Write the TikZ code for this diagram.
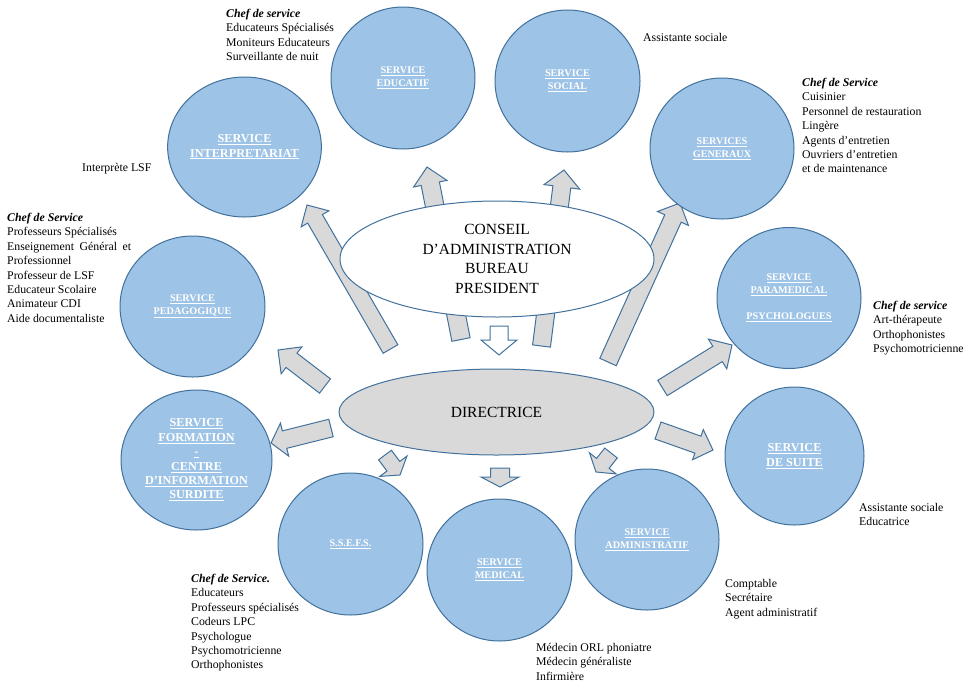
\documentclass[tikz,border=0pt]{standalone}
\usepackage{fontspec}
\setmainfont{Liberation Serif}
\usetikzlibrary{calc,shapes.geometric}

\definecolor{circfill}{HTML}{9DC3E6}
\definecolor{circline}{HTML}{41719C}
\definecolor{arrowgray}{HTML}{D9D9D9}

\newcommand{\svcline}[1]{\underline{#1}}

% block arrow: [options]{tail}{tip}{half shaft}{half head}{head length}
\newcommand{\blockarrow}[6][]{%
	\draw [blockarrow, #1] ($(#2)!#4!90:(#3)$) -- ($(#3)!#6!(#2)!#4!90:(#3)$) -- ($(#3)!#6!(#2)!#5!90:(#3)$) -- (#3) -- ($(#3)!#6!(#2)!#5!-90:(#3)$) -- ($(#3)!#6!(#2)!#4!-90:(#3)$) -- ($(#2)!#4!-90:(#3)$) -- cycle;%
}

\tikzset{
	service/.style = {ellipse, draw = circline, fill = circfill, line width = 1pt, inner sep = 0pt, text = white, align = center, font = \fontsize{10.2}{13}\selectfont\bfseries},
	service big/.style = {service, font = \fontsize{12.2}{14.4}\selectfont\bfseries},
	staff/.style = {anchor = north west, inner sep = 0pt, align = left, font = \fontsize{11.8}{14.4}\selectfont},
	blockarrow/.style = {draw = circline, fill = arrowgray, line width = 1pt, line join = miter},
}

\begin{document}
\begin{tikzpicture}[x = 1pt, y = -1pt]
						\useasboundingbox (0, 0) rectangle (964, 681);

						\coordinate (interp1) at (390.5, 349);
						\coordinate (interp2) at (307, 205);
						\coordinate (educ1) at (461, 339.5);
						\coordinate (educ2) at (427, 167);
						\coordinate (social1) at (541.5, 346);
						\coordinate (social2) at (564, 170);
						\coordinate (gen1) at (608, 362);
						\coordinate (gen2) at (680, 203);

						\coordinate (peda1) at (325, 386);
						\coordinate (peda2) at (278, 350);
						\coordinate (form1) at (331, 428);
						\coordinate (form2) at (271, 443);
						\coordinate (ssefs1) at (385, 455);
						\coordinate (ssefs2) at (400, 475);
						\coordinate (med1) at (500, 468);
						\coordinate (med2) at (500, 487);
						\coordinate (admin1) at (611, 453);
						\coordinate (admin2) at (596, 472);
						\coordinate (para1) at (662.5, 388);
						\coordinate (para2) at (732, 345);
						\coordinate (suite1) at (658, 430.5);
						\coordinate (suite2) at (713, 450);

						\coordinate (ca1) at (499, 326);
						\coordinate (ca2) at (499, 355);

						\blockarrow{interp1}{interp2}{8.5pt}{16pt}{16pt}
						\blockarrow{educ1}{educ2}{9.3pt}{17pt}{17pt}
						\blockarrow{social1}{social2}{9pt}{18pt}{17pt}
						\blockarrow{gen1}{gen2}{9pt}{17pt}{17pt}
						\blockarrow{peda1}{peda2}{9pt}{17pt}{17pt}
						\blockarrow{form1}{form2}{9pt}{17pt}{14pt}
						\blockarrow{ssefs1}{ssefs2}{8pt}{17pt}{11pt}
						\blockarrow{med1}{med2}{9.5pt}{19pt}{10pt}
						\blockarrow{admin1}{admin2}{8pt}{17pt}{11pt}
						\blockarrow{para1}{para2}{9pt}{17.5pt}{17pt}
						\blockarrow{suite1}{suite2}{9pt}{16pt}{16pt}
						\blockarrow[fill = white]{ca1}{ca2}{9pt}{18pt}{15pt}

						\node [ellipse, draw = circline, fill = white, line width = 1pt, inner sep = 0pt, minimum width = 314pt, minimum height = 116pt, align = center, font = \fontsize{15.5}{19.5}\selectfont] (conseil) at (497, 259) {CONSEIL\\D’ADMINISTRATION\\BUREAU\\PRESIDENT};
						\node [ellipse, draw = circline, fill = arrowgray, line width = 1pt, inner sep = 0pt, minimum width = 315pt, minimum height = 86pt, font = \fontsize{15.5}{19}\selectfont] (dir) at (496.5, 412) {DIRECTRICE};

						\node [service big, minimum width = 149pt, minimum height = 140pt] (interp) at (244.5, 147) {\svcline{SERVICE}\\\svcline{INTERPRETARIAT}};
						\node [service, minimum width = 144pt, minimum height = 142pt] (educ) at (403, 78) {\svcline{SERVICE}\\\svcline{EDUCATIF}};
						\node [service, minimum width = 145pt, minimum height = 142pt] (social) at (567.5, 81) {\svcline{SERVICE}\\\svcline{SOCIAL}};
						\node [service, minimum width = 144pt, minimum height = 141pt] (gen) at (722, 148.5) {\svcline{SERVICES}\\\svcline{GENERAUX}};
						\node [service, minimum width = 145pt, minimum height = 141pt] (peda) at (192.5, 306.5) {\svcline{SERVICE}\\\svcline{PEDAGOGIQUE}};
						\node [service big, minimum width = 151pt, minimum height = 140pt] (form) at (196.5, 460) {\svcline{SERVICE}\\\svcline{FORMATION}\\\svcline{-}\\\svcline{CENTRE}\\\svcline{D’INFORMATION}\\\svcline{SURDITE}};
						\node [service, minimum width = 144pt, minimum height = 141pt] (para) at (789, 298) {\svcline{SERVICE}\\\svcline{PARAMEDICAL}\\[13pt]\svcline{PSYCHOLOGUES}};
						\node [service big, minimum width = 139pt, minimum height = 138pt] (suite) at (794.5, 456) {\svcline{SERVICE}\\\svcline{DE SUITE}};
						\node [service, minimum width = 145pt, minimum height = 142pt] (ssefs) at (350.5, 544) {\svcline{S.S.E.F.S.}};
						\node [service, minimum width = 145pt, minimum height = 142pt] (med) at (499.5, 570) {\svcline{SERVICE}\\\svcline{MEDICAL}};
						\node [service, minimum width = 144pt, minimum height = 141pt] (admin) at (647, 539.5) {\svcline{SERVICE}\\\svcline{ADMINISTRATIF}};

						\node [staff] (educstaff) at (226, 9) {\textbf{\textit{Chef de service}}\\Educateurs Spécialisés\\Moniteurs Educateurs\\Surveillante de nuit};
						\node [staff] (socialstaff) at (643, 33) {Assistante sociale};
						\node [staff] (genstaff) at (802, 78) {\textbf{\textit{Chef de Service}}\\Cuisinier\\Personnel de restauration\\Lingère\\Agents d’entretien\\Ouvriers d’entretien\\et de maintenance};
						\node [staff] (interpstaff) at (82, 163) {Interprète LSF};
						\node [staff] (pedastaff) at (7, 213) {\textbf{\textit{Chef de Service}}\\Professeurs Spécialisés\\\makebox[124pt][s]{Enseignement Général et}\\Professionnel\\Professeur de LSF\\Educateur Scolaire\\Animateur CDI\\Aide documentaliste};
						\node [staff] (parastaff) at (873, 301) {\textbf{\textit{Chef de service}}\\Art-thérapeute\\Orthophonistes\\Psychomotricienne};
						\node [staff] (suitestaff) at (859, 503) {Assistante sociale\\Educatrice};
						\node [staff] (ssefsstaff) at (191, 574) {\textbf{\textit{Chef de Service.}}\\Educateurs\\Professeurs spécialisés\\Codeurs LPC\\Psychologue\\Psychomotricienne\\Orthophonistes};
						\node [staff] (medstaff) at (536, 643) {Médecin ORL phoniatre\\Médecin généraliste\\Infirmière};
						\node [staff] (adminstaff) at (725, 579) {Comptable\\Secrétaire\\Agent administratif};
					\end{tikzpicture}
\end{document}
